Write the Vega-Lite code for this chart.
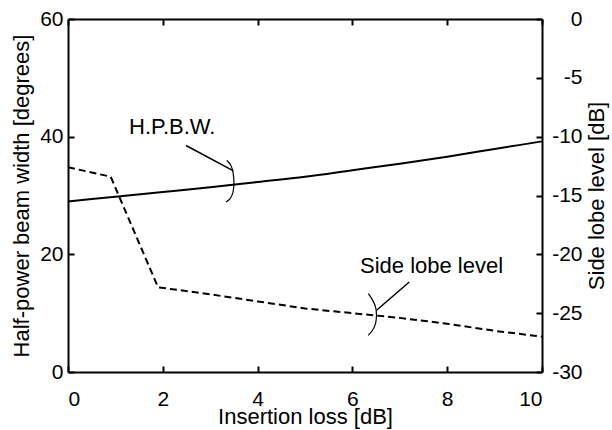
{
  "$schema": "https://vega.github.io/schema/vega-lite/v6.json",
  "width": 474,
  "height": 353,
  "autosize": "none",
  "padding": {"left": 68, "top": 19, "right": 70, "bottom": 58},
  "background": "white",
  "datasets": {
    "hpbw": [
      {"loss": 0, "hpbw": 29.0}, {"loss": 1, "hpbw": 29.8}, {"loss": 2, "hpbw": 30.6},
      {"loss": 3, "hpbw": 31.4}, {"loss": 4, "hpbw": 32.3}, {"loss": 5, "hpbw": 33.2},
      {"loss": 6, "hpbw": 34.3}, {"loss": 7, "hpbw": 35.4}, {"loss": 8, "hpbw": 36.6},
      {"loss": 9, "hpbw": 37.9}, {"loss": 10, "hpbw": 39.2}
    ],
    "sll": [
      {"loss": 0, "sll": -12.6}, {"loss": 0.9, "sll": -13.4}, {"loss": 1.9, "sll": -22.8},
      {"loss": 3, "sll": -23.4}, {"loss": 4, "sll": -24.0}, {"loss": 5, "sll": -24.6},
      {"loss": 6, "sll": -25.0}, {"loss": 7, "sll": -25.4}, {"loss": 8, "sll": -25.9},
      {"loss": 9, "sll": -26.5}, {"loss": 10, "sll": -27.0}
    ],
    "leaders": [
      {"x": 2.49, "y": 38.5, "x2": 3.49, "y2": 34.2},
      {"x": 7.2, "y": 15.3, "x2": 6.51, "y2": 10.5}
    ],
    "arcs": [
      {"arc": "a", "i": 0, "x": 3.348, "y": 35.98}, {"arc": "a", "i": 1, "x": 3.439, "y": 35.3},
      {"arc": "a", "i": 2, "x": 3.487, "y": 33.99}, {"arc": "a", "i": 3, "x": 3.508, "y": 32.07},
      {"arc": "a", "i": 4, "x": 3.487, "y": 30.37}, {"arc": "a", "i": 5, "x": 3.418, "y": 29.35},
      {"arc": "a", "i": 6, "x": 3.333, "y": 28.89},
      {"arc": "b", "i": 0, "x": 6.335, "y": 13.33}, {"arc": "b", "i": 1, "x": 6.435, "y": 12.19},
      {"arc": "b", "i": 2, "x": 6.498, "y": 11.0}, {"arc": "b", "i": 3, "x": 6.513, "y": 9.64},
      {"arc": "b", "i": 4, "x": 6.498, "y": 8.28}, {"arc": "b", "i": 5, "x": 6.435, "y": 7.09},
      {"arc": "b", "i": 6, "x": 6.335, "y": 6.24}
    ],
    "labels": [
      {"x": 2.2, "y": 41.6, "text": "H.P.B.W."},
      {"x": 7.67, "y": 18.1, "text": "Side lobe level"}
    ]
  },
  "layer": [
    {
      "layer": [
        {
          "data": {"name": "hpbw"},
          "mark": {"type": "line", "color": "black", "strokeWidth": 2, "interpolate": "monotone"},
          "encoding": {
            "x": {"field": "loss", "type": "quantitative", "scale": {"domain": [0, 10], "nice": false},
                  "axis": {"orient": "bottom", "values": [0, 2, 4, 6, 8, 10], "title": "Insertion loss [dB]", "labelPadding": 22, "titlePadding": -3}},
            "y": {"field": "hpbw", "type": "quantitative", "scale": {"domain": [0, 60], "nice": false},
                  "axis": {"orient": "left", "values": [0, 20, 40, 60], "title": "Half-power beam width [degrees]", "labelPadding": 11, "titlePadding": 6}}
          }
        },
        {
          "data": {"name": "leaders"},
          "mark": {"type": "rule", "color": "black", "strokeWidth": 1.5},
          "encoding": {
            "x": {"field": "x", "type": "quantitative"},
            "y": {"field": "y", "type": "quantitative"},
            "x2": {"field": "x2"},
            "y2": {"field": "y2"}
          }
        },
        {
          "data": {"name": "arcs"},
          "mark": {"type": "line", "color": "black", "strokeWidth": 1.2, "interpolate": "basis"},
          "encoding": {
            "x": {"field": "x", "type": "quantitative"},
            "y": {"field": "y", "type": "quantitative"},
            "detail": {"field": "arc"},
            "order": {"field": "i"}
          }
        },
        {
          "data": {"name": "labels"},
          "mark": {"type": "text", "font": "Liberation Sans", "fontSize": 22, "color": "black", "baseline": "middle", "align": "center"},
          "encoding": {
            "x": {"field": "x", "type": "quantitative"},
            "y": {"field": "y", "type": "quantitative"},
            "text": {"field": "text"}
          }
        }
      ]
    },
    {
      "data": {"name": "sll"},
      "mark": {"type": "line", "color": "black", "strokeWidth": 2, "strokeDash": [7, 4]},
      "encoding": {
        "x": {"field": "loss", "type": "quantitative", "scale": {"domain": [0, 10], "nice": false},
              "axis": {"orient": "top", "values": [0, 2, 4, 6, 8, 10], "labels": false, "title": null}},
        "y": {"field": "sll", "type": "quantitative", "scale": {"domain": [-30, 0], "nice": false},
              "axis": {"orient": "right", "values": [-30, -25, -20, -15, -10, -5, 0], "labelExpr": "'' + datum.value", "title": "Side lobe level [dB]", "labelAlign": "right", "labelPadding": 46, "titlePadding": 4, "titleAngle": 270, "titleBaseline": "top"}}
      }
    }
  ],
  "resolve": {"scale": {"y": "independent"}, "axis": {"x": "independent"}},
  "config": {
    "view": {"stroke": null},
    "axis": {
      "grid": false,
      "domainColor": "black", "domainWidth": 2,
      "tickColor": "black", "tickWidth": 2, "tickSize": -6,
      "labelFont": "Liberation Sans", "labelFontSize": 21, "labelColor": "black",
      "titleFont": "Liberation Sans", "titleFontSize": 22, "titleFontWeight": "normal", "titleColor": "black"
    }
  }
}
